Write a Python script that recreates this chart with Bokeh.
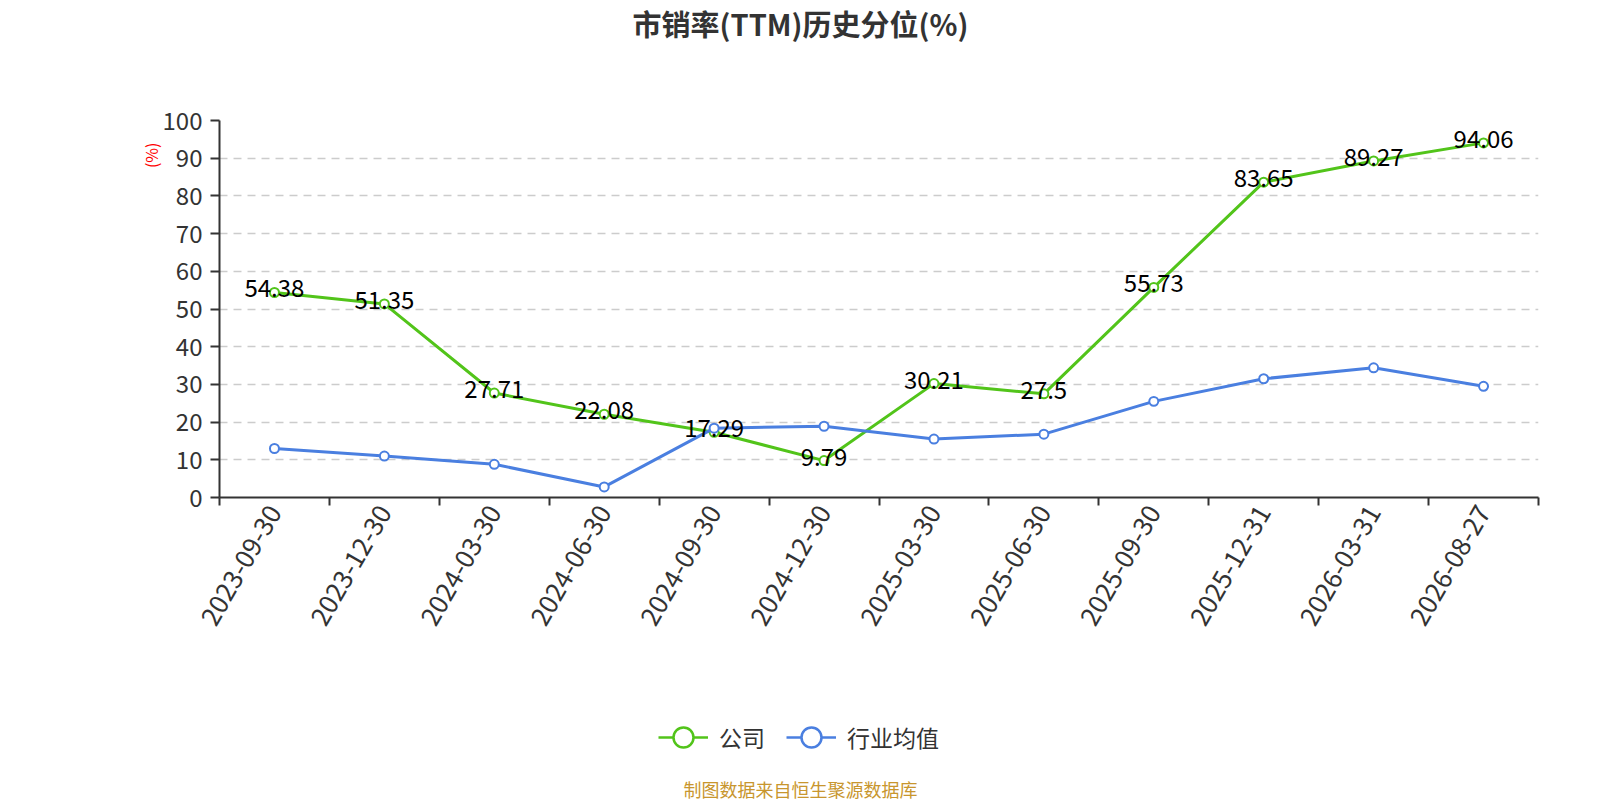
import math
from bokeh.plotting import figure
from bokeh.layouts import column
from bokeh.models import (ColumnDataSource, FixedTicker, Legend, LegendItem, Label, Title, Range1d)
from bokeh.core.properties import value
from bokeh.embed import file_html
from bokeh.resources import INLINE

dates = ["2023-09-30", "2023-12-30", "2024-03-30", "2024-06-30", "2024-09-30", "2024-12-30",
         "2025-03-30", "2025-06-30", "2025-09-30", "2025-12-31", "2026-03-31", "2026-08-27"]
company = [54.38, 51.35, 27.71, 22.08, 17.29, 9.79, 30.21, 27.5, 55.73, 83.65, 89.27, 94.06]
industry = [13.0, 11.0, 8.8, 2.8, 18.4, 18.9, 15.5, 16.8, 25.5, 31.5, 34.4, 29.5]
y_ticks = [0, 10, 20, 30, 40, 50, 60, 70, 80, 90, 100]

FONT = "Noto Sans CJK SC"
GREEN = "#52c41a"
BLUE = "#4a7fe0"
AXIS = "#333333"

n = len(dates)
xs = [i + 0.5 for i in range(n)]
src = ColumnDataSource(dict(x=xs, company=company, industry=industry,
                            label=[("%g" % v) for v in company]))

W = 1600
H_TOP = 60
H_MAIN = 600
H_FOOT = 140
BL, BR = 219, 62
BT = 120 - H_TOP
BB = H_TOP + H_MAIN - 497
CX = 800 - BL  # page centre, relative to the aligned frame left


def bare(fig):
    fig.outline_line_color = None
    fig.axis.visible = False
    fig.grid.visible = False
    return fig


# ---- title strip
t = bare(figure(width=W, height=H_TOP, output_backend="svg", toolbar_location=None,
                x_range=Range1d(0, 1), y_range=Range1d(0, 1), min_border=0))
t.add_layout(Label(x=CX, y=H_TOP - 22, x_units="screen", y_units="screen",
                   text="市销率(TTM)历史分位(%)", text_font=FONT, text_font_size="29px",
                   text_font_style="bold", text_color=AXIS,
                   text_align="center", text_baseline="middle"))

# ---- main chart
p = figure(width=W, height=H_MAIN, output_backend="svg", toolbar_location=None,
           x_range=Range1d(0, n), y_range=Range1d(0, 100),
           min_border_left=BL, min_border_right=BR, min_border_top=BT, min_border_bottom=BB)
p.outline_line_color = None

p.xaxis.ticker = FixedTicker(ticks=xs, minor_ticks=list(range(n + 1)))
p.xaxis.major_label_overrides = {x: d for x, d in zip(xs, dates)}
p.xaxis.major_tick_line_color = None
p.xaxis.minor_tick_line_color = AXIS
p.xaxis.minor_tick_line_width = 2
p.xaxis.minor_tick_out = 8
p.xaxis.minor_tick_in = 0
p.xaxis.axis_line_color = AXIS
p.xaxis.axis_line_width = 2
p.xaxis.major_label_orientation = math.pi / 3
p.xaxis.major_label_text_font = FONT
p.xaxis.major_label_text_font_size = "26px"
p.xaxis.major_label_text_color = AXIS
p.xaxis.major_label_standoff = 2

p.yaxis.ticker = FixedTicker(ticks=y_ticks)
p.yaxis.minor_tick_line_color = None
p.yaxis.major_tick_line_color = AXIS
p.yaxis.major_tick_line_width = 2
p.yaxis.major_tick_out = 9
p.yaxis.major_tick_in = 0
p.yaxis.axis_line_color = AXIS
p.yaxis.axis_line_width = 2
p.yaxis.major_label_text_font = FONT
p.yaxis.major_label_text_font_size = "24px"
p.yaxis.major_label_text_color = AXIS
p.yaxis.major_label_standoff = 8

p.xgrid.grid_line_color = None
p.ygrid.ticker = FixedTicker(ticks=y_ticks[1:])
p.ygrid.grid_line_color = "#cccccc"
p.ygrid.grid_line_dash = "8 6"
p.ygrid.grid_line_width = 1.5

p.line("x", "company", source=src, line_color=GREEN, line_width=3)
p.scatter("x", "company", source=src, size=9, fill_color="white", line_color=GREEN, line_width=2)
p.line("x", "industry", source=src, line_color=BLUE, line_width=3)
p.scatter("x", "industry", source=src, size=9, fill_color="white", line_color=BLUE, line_width=2)

p.text("x", "company", text="label", source=src, text_font=value(FONT), text_font_size="24px",
       text_color="black", text_align="center", text_baseline="middle", y_offset=-4)

p.add_layout(Title(text="(%)", align="right", offset=22, standoff=-6, text_font=FONT,
                   text_font_size="16px", text_font_style="normal", text_color="red"), "left")

# ---- legend + source strip
f = bare(figure(width=W, height=H_FOOT, output_backend="svg", toolbar_location=None,
                x_range=Range1d(0, 1), y_range=Range1d(0, 1), min_border=0))

nan = float("nan")
lg1 = f.line([nan], [nan], line_color=GREEN, line_width=2.5)
lg1s = f.scatter([nan], [nan], size=9, fill_color="white", line_color=GREEN, line_width=2.5)
lg2 = f.line([nan], [nan], line_color=BLUE, line_width=2.5)
lg2s = f.scatter([nan], [nan], size=9, fill_color="white", line_color=BLUE, line_width=2.5)

legend = Legend(items=[LegendItem(label="公司", renderers=[lg1, lg1s]),
                       LegendItem(label="行业均值", renderers=[lg2, lg2s])],
                orientation="horizontal", location=(658 - BL, 37),
                glyph_width=50, glyph_height=52, label_text_font=FONT,
                label_text_font_size="23px", label_text_color=AXIS,
                spacing=21, label_standoff=11, border_line_color=None,
                background_fill_alpha=0, padding=0, margin=0)
f.add_layout(legend, "center")

f.add_layout(Label(x=CX, y=12, x_units="screen", y_units="screen",
                   text="制图数据来自恒生聚源数据库", text_font=FONT, text_font_size="18px",
                   text_color="#c8962e", text_align="center", text_baseline="middle"))

layout = column(t, p, f, spacing=0)
open("out.html", "w").write(file_html(layout, INLINE))
